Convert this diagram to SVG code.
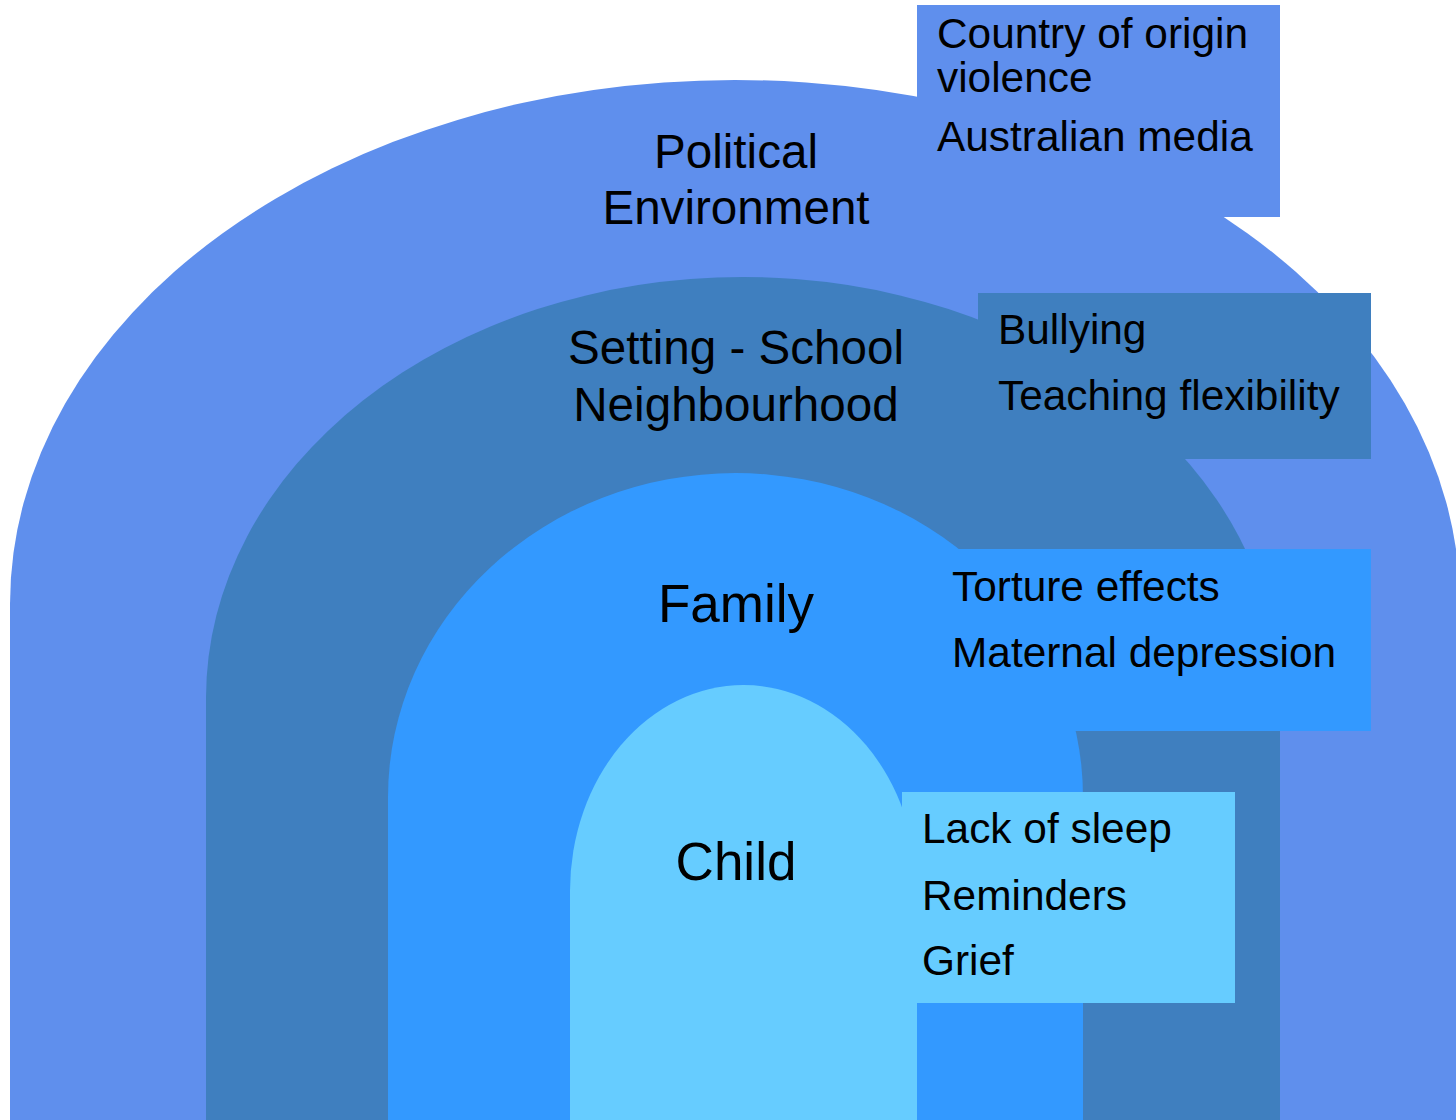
<svg xmlns="http://www.w3.org/2000/svg" width="1456" height="1120" viewBox="0 0 1456 1120">
<style>
.l1{fill:#5f8fed}
.l2{fill:#3f7fbf}
.l3{fill:#3399ff}
.l4{fill:#66ccff}
text{font-family:"Liberation Sans",Arial,sans-serif;fill:#000}
.main{font-size:47.6px;text-anchor:middle}
.big{font-size:53px;text-anchor:middle}
.item{font-size:42.4px}
</style>
<rect width="1456" height="1120" fill="#ffffff"/>
<g id="political">
<path class="l1" d="M10,1120 V604 A725,524 0 0 1 1460,604 V1120 Z"/>
<text class="main" x="736" y="168">Political</text>
<text class="main" x="736" y="224">Environment</text>
</g>
<g id="political-box">
<rect class="l1" x="917" y="5" width="363" height="212"/>
<text class="item" x="937" y="48">Country of origin</text>
<text class="item" x="937" y="92">violence</text>
<text class="item" x="937" y="151">Australian media</text>
</g>
<g id="setting">
<path class="l2" d="M206,1120 V698 A537,421 0 0 1 1280,698 V1120 Z"/>
<text class="main" x="736" y="364">Setting - School</text>
<text class="main" x="736" y="421">Neighbourhood</text>
</g>
<g id="setting-box">
<rect class="l2" x="978" y="293" width="393" height="166"/>
<text class="item" x="998" y="344">Bullying</text>
<text class="item" x="998" y="410">Teaching flexibility</text>
</g>
<g id="family">
<path class="l3" d="M388,1120 V797 A347.5,324 0 0 1 1083,797 V1120 Z"/>
<text class="big" x="736" y="622">Family</text>
</g>
<g id="family-box">
<rect class="l3" x="932" y="549" width="439" height="182"/>
<text class="item" x="952" y="601">Torture effects</text>
<text class="item" x="952" y="667">Maternal depression</text>
</g>
<g id="child">
<path class="l4" d="M570,1120 V891 A173.5,206 0 0 1 917,891 V1120 Z"/>
<text class="big" x="736" y="880">Child</text>
</g>
<g id="child-box">
<rect class="l4" x="902" y="792" width="333" height="211"/>
<text class="item" x="922" y="843">Lack of sleep</text>
<text class="item" x="922" y="910">Reminders</text>
<text class="item" x="922" y="975">Grief</text>
</g>
<g id="connectors"/>
</svg>
